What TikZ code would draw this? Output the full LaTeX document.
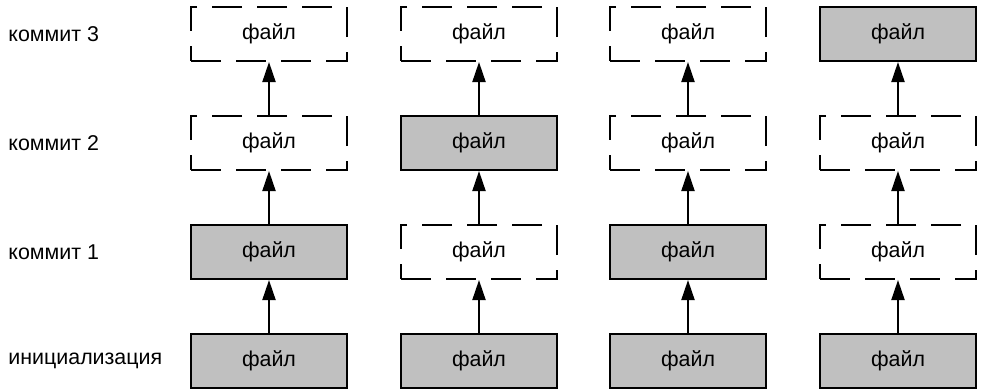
\documentclass[tikz,border=0pt]{standalone}
\usepackage{fontspec}
\setmainfont{Liberation Sans}
\usetikzlibrary{arrows.meta}
\definecolor{filegray}{RGB}{192,192,192}

\begin{document}
\begin{tikzpicture}[
  x=0.5pt, y=-0.5pt,
  font=\fontsize{10.7}{12}\selectfont,
  file/.style={draw, line width=1pt, minimum width=78pt, minimum height=27pt, inner sep=0pt},
  kept/.style={file, fill=filegray},
  same/.style={file, dash pattern=on 15pt off 7.5pt},
  commit/.style={anchor=west, inner sep=0pt},
  arr/.style={-{Triangle[length=10pt,width=6.5pt]}, line width=1pt},
]
\useasboundingbox (0,0) rectangle (982,391);

% Row labels
\node[commit] (l3) at (8,34)  {коммит 3};
\node[commit] (l2) at (8,143) {коммит 2};
\node[commit] (l1) at (8,252) {коммит 1};
\node[commit] (l0) at (8,361) {инициализация};

% Column 1
\node[kept] (a0) at (269,361) {файл};
\node[kept] (a1) at (269,252) {файл};
\node[same] (a2) at (269,143) {файл};
\node[same] (a3) at (269,34)  {файл};

% Column 2
\node[kept] (b0) at (479,361) {файл};
\node[same] (b1) at (479,252) {файл};
\node[kept] (b2) at (479,143) {файл};
\node[same] (b3) at (479,34)  {файл};

% Column 3
\node[kept] (c0) at (688,361) {файл};
\node[kept] (c1) at (688,252) {файл};
\node[same] (c2) at (688,143) {файл};
\node[same] (c3) at (688,34)  {файл};

% Column 4
\node[kept] (d0) at (898,361) {файл};
\node[same] (d1) at (898,252) {файл};
\node[same] (d2) at (898,143) {файл};
\node[kept] (d3) at (898,34)  {файл};

% Arrows between commits
\foreach \col in {a,b,c,d}
  \foreach \r/\s in {0/1,1/2,2/3}
    \draw[arr] (\col\r) -- (\col\s);

\end{tikzpicture}
\end{document}
